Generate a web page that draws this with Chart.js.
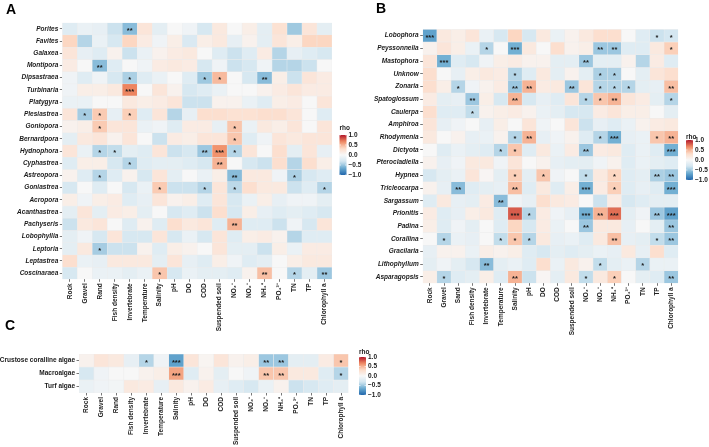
<!DOCTYPE html>
<html><head><meta charset="utf-8">
<script src="https://cdn.jsdelivr.net/npm/chart.js@4/dist/chart.umd.min.js"></script>
<style>
html,body{margin:0;padding:0;background:#fff;}
#wrap{position:relative;width:709px;height:447px;overflow:hidden;background:#fff;}
canvas{position:absolute;left:0;top:0;}
.tag{position:absolute;font-family:"Liberation Sans",Arial,sans-serif;font-weight:bold;font-size:14px;line-height:14px;color:#000;}
</style></head><body>
<div id="wrap">
<canvas id="cA" width="709" height="447"></canvas>
<canvas id="cB" width="709" height="447"></canvas>
<canvas id="cC" width="709" height="447"></canvas>
<div class="tag" style="left:6px;top:2px;">A</div>
<div class="tag" style="left:376px;top:1px;">B</div>
<div class="tag" style="left:5px;top:318px;">C</div>
</div>
<script>
// ---------------- DATA ----------------
const VARS_A = ["Rock","Gravel","Rand","Fish density","Invertebrate","Temperature","Salinity","pH","DO","COD","Suspended soil","NO\u2083\u207B","NO\u2082\u207B","NH\u2084\u207A","PO\u2084\u00B3\u207B","TN","TP","Chlorophyll a"];
const VARS_B = ["Rock","Gravel","Sand","Fish density","Invertebrate","Temperature","Salinity","pH","DO","COD","Suspended soil","NO\u2083\u207B","NO\u2082\u207B","NH\u2084\u207A","PO\u2084\u00B3\u207B","TN","TP","Chlorophyll a"];
const VARS_C = VARS_A;

const CORALS = ["Porites","Favites","Galaxea","Montipora","Dipsastraea","Turbinaria","Platygyra","Plesiastrea","Goniopora","Bernardpora","Hydnophora","Cyphastrea","Astreopora","Goniastrea","Acropora","Acanthastrea","Pachyseris","Lobophyllia","Leptoria","Leptastrea","Coscinaraea"];
const CORAL_RHO = [
 [-0.21,-0.11,-0.14,-0.35,-0.56,0.21,-0.17,0.0,-0.07,-0.28,0.17,0.0,0.11,-0.17,0.25,-0.49,0.21,-0.17],
 [0.35,-0.42,-0.11,-0.28,0.35,0.14,-0.07,0.11,-0.25,0.11,0.17,-0.14,0.07,-0.17,0.21,0.11,0.35,0.35],
 [0.21,-0.14,-0.21,0.07,-0.35,-0.11,0.07,0.14,0.17,0,-0.21,-0.35,-0.21,0.14,-0.42,-0.14,-0.21,-0.28],
 [0.14,0,-0.56,-0.21,0,-0.07,0.14,0.17,0.14,-0.28,-0.07,-0.35,-0.28,-0.07,-0.42,-0.42,-0.35,0],
 [-0.07,-0.21,-0.07,-0.28,-0.45,-0.21,-0.11,0,-0.21,-0.49,0.47,0,-0.28,-0.56,0.11,-0.35,0.21,0.14],
 [-0.07,0.11,0.11,0.17,0.68,0,0.21,0.07,-0.28,-0.21,-0.11,0,0,0.07,0.14,0.21,0.14,0.14],
 [-0.11,-0.11,0,0,0.17,0.11,0.14,0.21,-0.35,-0.35,0.07,0.07,-0.11,-0.21,0.11,0.14,0,0.21],
 [0.21,-0.47,0.4,-0.14,0.38,-0.21,0.21,-0.42,-0.14,0.28,0.28,0.25,0.25,0.28,0.28,0.21,0,-0.21],
 [0.07,0.11,0.4,0.21,0.21,-0.11,-0.07,-0.21,0.14,0.14,-0.14,0.42,-0.11,0.17,0.11,0.21,0,0.21],
 [-0.17,0.17,0.21,0.07,0.21,0,-0.35,0.14,0.11,0.21,0.21,0.42,-0.21,-0.07,0.21,0.17,0.21,0.21],
 [0.21,-0.11,-0.42,-0.38,-0.17,-0.21,0.21,-0.35,-0.28,-0.5,0.63,-0.42,0.21,0,0.28,-0.17,0.21,-0.14],
 [-0.21,0.11,0.11,-0.28,-0.42,-0.21,-0.17,-0.17,-0.21,-0.28,0.5,0,-0.28,-0.35,0.28,-0.42,0.28,0.11],
 [0.07,-0.21,-0.42,-0.21,0.07,-0.28,0.21,-0.17,0,-0.11,0.11,-0.56,0.17,0.17,-0.07,-0.45,-0.28,-0.21],
 [-0.28,0,-0.21,0,-0.28,-0.11,0.4,-0.35,-0.35,-0.42,0.21,-0.4,0.28,0.17,0.17,-0.35,-0.21,-0.42],
 [0.11,-0.07,0.11,0.14,-0.21,-0.14,0.21,0.07,0.11,-0.21,0.21,-0.28,-0.11,0.11,-0.14,-0.07,-0.07,-0.17],
 [-0.17,0.21,-0.17,0.14,0.11,-0.17,0,-0.28,-0.21,-0.35,0.28,-0.28,0.11,-0.14,-0.21,-0.17,-0.21,-0.28],
 [-0.35,0.17,0.21,0,-0.21,0.07,-0.21,0.28,0.17,0.21,-0.21,0.5,-0.21,-0.21,-0.35,-0.07,-0.28,0.21],
 [-0.17,-0.07,-0.28,0.21,-0.28,-0.28,0.21,-0.28,-0.11,-0.28,0.21,-0.21,0.11,0.14,0.07,-0.42,-0.21,-0.21],
 [-0.17,0.17,-0.47,-0.35,-0.35,0.07,-0.21,0.11,0.07,0,0.21,-0.17,-0.17,-0.35,0.11,-0.11,0.14,0.14],
 [0.28,-0.11,-0.14,0.17,0.17,0.17,-0.17,0.21,-0.14,-0.21,0.11,-0.07,-0.21,-0.17,0,0.11,0.17,0.17],
 [-0.28,0,-0.11,-0.11,-0.17,-0.11,0.42,-0.28,-0.11,-0.17,-0.17,-0.21,0.07,0.45,0,-0.42,-0.17,-0.5]
];
const CORAL_SIG = [
 [0,4,"**"],[3,2,"**"],
 [4,4,"*"],[4,9,"*"],[4,10,"*"],[4,13,"**"],
 [5,4,"***"],
 [7,1,"*"],[7,2,"*"],[7,4,"*"],
 [8,2,"*"],[8,11,"*"],[9,11,"*"],
 [10,2,"*"],[10,3,"*"],[10,9,"**"],[10,10,"***"],[10,11,"*"],
 [11,4,"*"],[11,10,"**"],
 [12,2,"*"],[12,11,"**"],[12,15,"*"],
 [13,6,"*"],[13,9,"*"],[13,11,"*"],[13,17,"*"],
 [16,11,"**"],[18,2,"*"],
 [20,6,"*"],[20,13,"**"],[20,15,"*"],[20,17,"**"]
];

const ALGAE = ["Lobophora","Peyssonnelia","Mastophora","Unknow","Zonaria","Spatoglossum","Caulerpa","Amphiroa","Rhodymenia","Dictyota","Pterocladiella","Hypnea","Tricleocarpa","Sargassum","Prionitis","Padina","Corallina","Gracilaria","Lithophyllum","Asparagopsis"];
const ALGAE_RHO = [
 [-0.7,0.17,0.11,0.21,-0.11,-0.28,0.35,-0.28,0.17,-0.11,0.07,0.17,0.28,0.28,0,-0.21,-0.35,-0.3],
 [0.07,0.21,0.11,-0.11,-0.42,0,-0.63,0.17,0,0.28,0.07,0.11,-0.5,-0.5,-0.21,-0.21,0.17,0.38],
 [0.21,-0.63,-0.21,-0.28,-0.07,0.11,0.14,0.07,0.07,-0.17,-0.17,-0.5,-0.17,-0.17,0.07,-0.42,0.14,-0.21],
 [0.28,0,-0.14,0.11,0.17,0.14,-0.42,-0.21,0.17,-0.17,0.07,-0.17,-0.45,-0.45,0,-0.17,0.21,0.28],
 [0.28,0.11,-0.42,-0.07,0.07,0.14,-0.5,0.5,0.14,0.17,-0.5,0.21,-0.42,-0.42,-0.42,-0.17,-0.14,0.45],
 [0.14,-0.17,-0.14,-0.5,0.11,-0.28,0.5,-0.28,-0.14,-0.21,0.21,-0.42,0.42,0.5,0.21,0.14,-0.17,-0.42],
 [0.28,-0.21,-0.21,-0.38,0.07,0.11,0.14,0.07,-0.11,-0.17,-0.28,-0.28,0.14,0.21,0.11,0.11,0,-0.17],
 [0.21,-0.14,-0.07,0,-0.14,0.11,0,0.21,-0.07,0,0.21,-0.35,-0.14,-0.21,-0.11,0.07,0.14,0.17],
 [0.17,0,0.07,-0.14,-0.11,0.07,-0.42,0.5,-0.14,-0.07,0.07,-0.21,-0.42,-0.63,-0.14,-0.11,0.42,0.5],
 [0,-0.21,-0.11,-0.17,-0.21,-0.42,0.42,-0.21,0.17,-0.11,0.14,-0.5,0.14,0.17,-0.21,-0.11,-0.21,-0.63],
 [0.07,-0.14,-0.07,0.17,0.17,-0.07,0.21,0,0.07,-0.14,-0.17,-0.17,-0.07,0.07,-0.21,-0.11,-0.17,-0.21],
 [-0.28,-0.17,-0.11,0.21,0.03,-0.17,0.38,-0.17,0.42,-0.07,0,-0.38,0.17,0.35,-0.21,-0.17,-0.45,-0.5],
 [0.07,-0.14,-0.56,-0.21,-0.17,-0.14,0.45,-0.21,0.17,-0.21,0.11,-0.63,0.14,0.38,-0.21,-0.14,-0.21,-0.63],
 [-0.21,0.17,-0.14,-0.17,0.14,-0.56,-0.07,-0.14,0.28,0.17,0.14,0,-0.35,0.14,-0.28,-0.21,-0.17,-0.17],
 [0.14,-0.21,-0.14,0.11,0.17,-0.21,0.8,-0.42,0.14,-0.07,-0.14,-0.63,0.5,0.75,-0.17,-0.07,-0.5,-0.7],
 [0.11,-0.21,-0.07,-0.17,0,-0.21,0.35,-0.28,0.14,-0.11,0,-0.5,0.17,0.17,-0.14,0,-0.17,-0.5],
 [0,-0.42,-0.11,-0.14,0,-0.38,0.42,-0.42,0.17,-0.14,-0.11,-0.21,0.17,0.45,-0.14,-0.17,-0.38,-0.5],
 [-0.14,0.07,0.07,-0.11,0.11,0.07,0.11,-0.21,-0.28,-0.17,-0.21,-0.17,-0.11,-0.14,0.17,-0.14,0.28,-0.21],
 [-0.17,-0.07,-0.17,-0.28,-0.56,-0.17,-0.11,-0.21,0.28,-0.11,0.17,0.07,-0.38,-0.17,-0.11,-0.42,-0.11,-0.11],
 [0.11,-0.42,-0.21,-0.17,0.11,-0.21,0.5,-0.35,0.03,-0.17,0.17,-0.38,0.17,0.38,0,-0.17,-0.21,-0.5]
];
const ALGAE_SIG = [
 [0,0,"***"],[0,16,"*"],[0,17,"*"],
 [1,4,"*"],[1,6,"***"],[1,12,"**"],[1,13,"**"],[1,17,"*"],
 [2,1,"***"],[2,11,"**"],
 [3,6,"*"],[3,12,"*"],[3,13,"*"],
 [4,2,"*"],[4,6,"**"],[4,7,"**"],[4,10,"**"],[4,12,"*"],[4,13,"*"],[4,14,"*"],[4,17,"**"],
 [5,3,"**"],[5,6,"**"],[5,11,"*"],[5,12,"*"],[5,13,"**"],[5,17,"*"],
 [6,3,"*"],
 [8,6,"*"],[8,7,"**"],[8,12,"*"],[8,13,"***"],[8,16,"*"],[8,17,"**"],
 [9,5,"*"],[9,6,"*"],[9,11,"**"],[9,17,"***"],
 [11,6,"*"],[11,8,"*"],[11,11,"*"],[11,13,"*"],[11,16,"**"],[11,17,"**"],
 [12,2,"**"],[12,6,"**"],[12,11,"***"],[12,13,"*"],[12,17,"***"],
 [13,5,"**"],
 [14,6,"***"],[14,7,"*"],[14,11,"***"],[14,12,"**"],[14,13,"***"],[14,16,"**"],[14,17,"***"],
 [15,11,"**"],[15,17,"**"],
 [16,1,"*"],[16,5,"*"],[16,6,"*"],[16,7,"*"],[16,13,"**"],[16,16,"*"],[16,17,"**"],
 [18,4,"**"],[18,12,"*"],[18,15,"*"],
 [19,1,"*"],[19,6,"**"],[19,11,"*"],[19,13,"*"],[19,17,"**"]
];

const GROUPS = ["Crustose coralline algae","Macroalgae","Turf algae"];
const GROUP_RHO = [
 [0.07,0.21,0.17,-0.14,-0.42,-0.07,-0.7,0.21,0.04,0.21,0.07,0.11,-0.5,-0.5,-0.17,-0.17,0.14,0.42],
 [-0.28,-0.07,0,0,0.07,0.11,0.56,-0.21,0.07,-0.17,0,-0.07,0.42,0.42,0.17,0.17,-0.21,-0.42],
 [-0.11,-0.07,-0.04,0.17,0.14,-0.14,0.17,0.07,0.14,-0.14,-0.21,-0.28,-0.11,0.07,-0.35,-0.28,-0.21,-0.17]
];
const GROUP_SIG = [
 [0,4,"*"],[0,6,"***"],[0,12,"**"],[0,13,"**"],[0,17,"*"],
 [1,6,"***"],[1,12,"**"],[1,13,"**"],[1,17,"*"]
];
const RHO_TICKS = [1.0, 0.5, 0.0, -0.5, -1.0];

// ---------------- STYLE ----------------
const FONT = '"Liberation Sans", Arial, Helvetica, sans-serif';
const W = 709, H = 447;
const STOPS = [[-1,[33,102,172]],[-0.6667,[103,169,207]],[-0.3333,[209,229,240]],[0,[247,247,247]],[0.3333,[253,219,199]],[0.6667,[239,138,98]],[1,[178,24,43]]];
function rhoColor(v){
  v = Math.max(-1, Math.min(1, v));
  for (let i=0;i<STOPS.length-1;i++){
    const [a,ca]=STOPS[i],[b,cb]=STOPS[i+1];
    if (v>=a && v<=b){
      const t=(v-a)/(b-a);
      const c=ca.map((x,k)=>Math.round(x+(cb[k]-x)*t));
      return `rgb(${c[0]},${c[1]},${c[2]})`;
    }
  }
  return '#f7f7f7';
}

const sigPlugin = {
  id:'sigMarks',
  afterDatasetsDraw(chart, args, opts){
    const {ctx} = chart; const xs = chart.scales.x, ys = chart.scales.y;
    ctx.save();
    ctx.font = 'bold 7.5px ' + FONT;
    ctx.fillStyle = '#1a1a1a'; ctx.textAlign='center'; ctx.textBaseline='middle';
    for (const [r,c,s] of opts.sig){
      ctx.fillText(s, xs.getPixelForValue(c), ys.getPixelForValue(r+0.5)+2);
    }
    ctx.restore();
  }
};

const barPlugin = {
  id:'rhoBar',
  afterDraw(chart, args, o){
    const ctx = chart.ctx;
    ctx.save();
    const g = ctx.createLinearGradient(0,o.y0,0,o.y1);
    for (let i=0;i<=20;i++){ const v = 1 - i/10; g.addColorStop(i/20, rhoColor(v)); }
    ctx.fillStyle = g; ctx.fillRect(o.x, o.y0, o.w, o.y1-o.y0);
    ctx.fillStyle = '#1a1a1a';
    ctx.font = 'bold 6.5px ' + FONT;
    ctx.textAlign='left'; ctx.textBaseline='alphabetic';
    ctx.fillText('rho', o.x, o.titleY);
    ctx.textBaseline='middle';
    ctx.strokeStyle='#fff'; ctx.lineWidth=0.6;
    for (const v of RHO_TICKS){
      const yy = o.y0 + (1-v)/2*(o.y1-o.y0);
      const s = (v<0?'\u2212':'') + Math.abs(v).toFixed(1);
      ctx.fillText(s, o.x+o.w+2, yy);
      ctx.beginPath(); ctx.moveTo(o.x, yy); ctx.lineTo(o.x+1.5, yy);
      ctx.moveTo(o.x+o.w-1.5, yy); ctx.lineTo(o.x+o.w, yy); ctx.stroke();
    }
    ctx.restore();
  }
};

function heatmap(id, rows, cols, vals, sig, box, legend, italic){
  const datasets = rows.map((name, r) => ({
    label: name,
    data: cols.map(() => [r, r+1]),
    backgroundColor: vals[r].map(rhoColor),
    borderColor: 'rgba(236,236,236,1)',
    borderWidth: 0.5,
    borderSkipped: false,
    grouped: false,
    categoryPercentage: 1,
    barPercentage: 1
  }));
  const gridOpt = {display:true, drawOnChartArea:false, drawTicks:true, tickLength:2.5, tickWidth:0.8, tickColor:'#555', offset:false};
  return new Chart(document.getElementById(id), {
    type:'bar',
    data:{labels: cols, datasets},
    plugins:[sigPlugin, barPlugin],
    options:{
      responsive:false, animation:false, events:[],
      layout:{padding:{left:0, top:box.top, right:W-box.right, bottom:0}},
      plugins:{legend:{display:false}, tooltip:{enabled:false}, sigMarks:{sig}, rhoBar:legend},
      scales:{
        x:{type:'category', offset:true, position:'bottom',
           grid:gridOpt, border:{display:false},
           ticks:{autoSkip:false, maxRotation:90, minRotation:90, padding:1.5, color:'#222',
                  font:{family:FONT, size:6.5, weight:'bold'}},
           afterFit:(s)=>{ s.height = H - box.bottom; }},
        y:{type:'linear', min:0, max:rows.length, reverse:true, position:'left',
           afterBuildTicks:(s)=>{ s.ticks = rows.map((_,i)=>({value:i+0.5})); },
           grid:gridOpt, border:{display:false},
           ticks:{autoSkip:false, padding:1.5, color:'#1a1a1a',
                  font:{family:FONT, size:6.5, weight:'bold', style: italic ? 'italic' : 'normal'},
                  callback:(v,i)=>rows[i]},
           afterFit:(s)=>{ s.width = box.left; }}
      }
    }
  });
}

heatmap('cA', CORALS, VARS_A, CORAL_RHO, CORAL_SIG,
  {left:62.3, top:22.7, right:332, bottom:279.3},
  {x:339.5, w:7, y0:135, y1:175, titleY:129.5}, true);
heatmap('cB', ALGAE, VARS_B, ALGAE_RHO, ALGAE_SIG,
  {left:422.7, top:29.3, right:678.3, bottom:283.3},
  {x:686, w:7, y0:140, y1:180, titleY:138.5}, true);
heatmap('cC', GROUPS, VARS_C, GROUP_RHO, GROUP_SIG,
  {left:79, top:354, right:348.5, bottom:393},
  {x:359, w:7, y0:357, y1:395, titleY:354}, false);
</script>
</body></html>
